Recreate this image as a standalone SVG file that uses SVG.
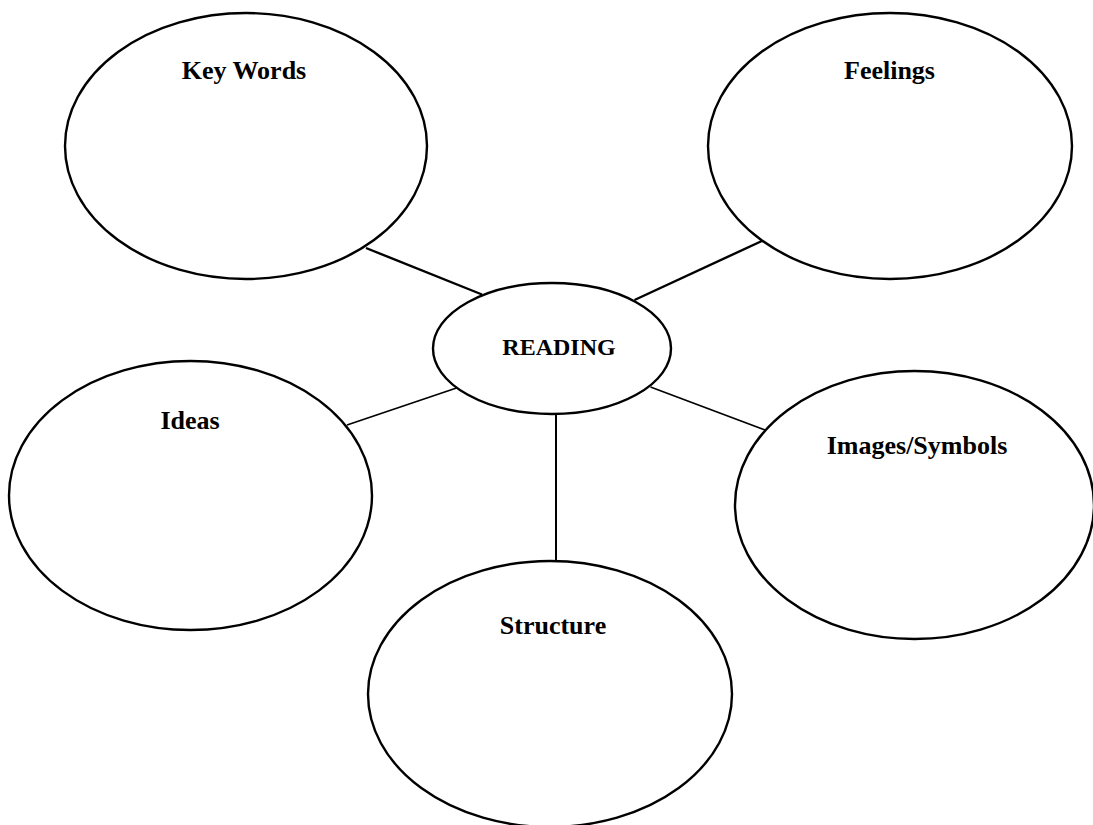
<svg xmlns="http://www.w3.org/2000/svg" width="1093" height="825" viewBox="0 0 1093 825">
<style>
.node { fill: #ffffff; stroke: #000000; stroke-width: 2.4; }
.lbl { font-family: "Liberation Serif", "Times New Roman", serif; font-weight: bold; font-size: 26px; fill: #000000; text-anchor: middle; }
.conn { stroke: #000000; fill: none; }
</style>
<rect x="0" y="0" width="1093" height="825" fill="#ffffff"/>
<g id="connectors">
<line class="conn" x1="366" y1="248" x2="482" y2="294.5" stroke-width="2.4"/>
<line class="conn" x1="764" y1="240" x2="634.5" y2="300" stroke-width="2.4"/>
<line class="conn" x1="347" y1="425" x2="456.5" y2="388" stroke-width="1.6"/>
<line class="conn" x1="650.5" y1="387" x2="765" y2="430" stroke-width="1.6"/>
<line class="conn" x1="556" y1="414" x2="556" y2="561" stroke-width="2"/>
</g>
<g id="node-keywords">
<ellipse class="node" cx="246" cy="146" rx="181" ry="133"/>
<text class="lbl" x="244" y="79">Key Words</text>
</g>
<g id="node-feelings">
<ellipse class="node" cx="890" cy="146" rx="182" ry="133"/>
<text class="lbl" x="889.5" y="79">Feelings</text>
</g>
<g id="node-reading">
<ellipse class="node" cx="552" cy="348.5" rx="119" ry="65.5"/>
<text class="lbl" x="559" y="355" style="font-size:24px">READING</text>
</g>
<g id="node-ideas">
<ellipse class="node" cx="190.5" cy="495.5" rx="181.5" ry="134.5"/>
<text class="lbl" x="190" y="429">Ideas</text>
</g>
<g id="node-images">
<ellipse class="node" cx="914.5" cy="505" rx="179.5" ry="134"/>
<text class="lbl" x="917" y="454">Images/Symbols</text>
</g>
<g id="node-structure">
<ellipse class="node" cx="550" cy="694" rx="182" ry="133"/>
<text class="lbl" x="553" y="634">Structure</text>
</g>
</svg>
